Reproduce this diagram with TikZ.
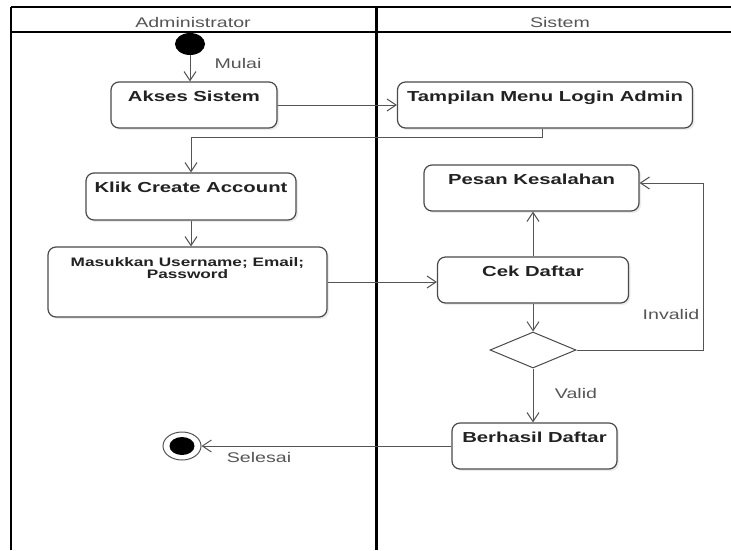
\documentclass[tikz,border=0pt]{standalone}
\usepackage{fontspec}
\setmainfont{Liberation Sans}
\newfontfamily\widesans[FakeStretch=1.4]{Liberation Sans}
\usetikzlibrary{arrows.meta,shapes.geometric,shadows}

\definecolor{boxgray}{HTML}{4A4A4A}
\definecolor{linegray}{HTML}{555555}
\definecolor{textdark}{HTML}{222222}
\definecolor{notegray}{HTML}{555555}

\begin{document}
\begin{tikzpicture}[
  x=1pt, y=-1pt,
  activity/.style={draw=boxgray, line width=1.2pt, rounded corners=8pt, fill=white,
    inner sep=0pt, drop shadow={opacity=0.15, shadow xshift=2pt, shadow yshift=-2pt}},
  boxtext/.style={font=\widesans\bfseries\fontsize{14.5}{17}\selectfont, text=textdark,
    anchor=north, inner sep=0pt, yshift=-9.5pt},
  boxsmall/.style={font=\widesans\bfseries\fontsize{12.3}{12}\selectfont, text=textdark,
    anchor=north, inner sep=0pt, yshift=-10.5pt, align=center},
  note/.style={font=\widesans\fontsize{14}{16}\selectfont, text=notegray, inner sep=0pt},
  flow/.style={draw=linegray, line width=1pt,
    -{Straight Barb[length=9pt,width=12pt,line width=1pt]}},
  lane/.style={line width=2.2pt, draw=black},
]
\useasboundingbox (0,0) rectangle (731,550);

% swimlane frame
\draw[lane] (11,7) -- (731,7);
\draw[lane] (11,7) -- (11,550);
\draw[line width=2pt] (11,32) -- (731,32);
\draw[line width=3pt] (376,7) -- (376,550);
\node[note] (laneA) at (193,22) {Administrator};
\node[note] (laneB) at (560,22) {Sistem};

% initial and final nodes
\node[ellipse, fill=black, minimum width=30, minimum height=22, inner sep=0pt] (start) at (190,44) {};
\node[ellipse, draw=linegray, line width=1pt, fill=white, minimum width=38, minimum height=28,
  inner sep=0pt, path picture={\fill[black] (path picture bounding box.center)
  ellipse [x radius=12.5pt, y radius=9pt];}] (finish) at (182,446) {};

% activities
\node[activity, minimum width=166, minimum height=46, label={[boxtext]north:Akses Sistem}] (akses) at (194,105) {};
\node[activity, minimum width=295, minimum height=46, label={[boxtext]north:Tampilan Menu Login Admin}] (tampilan) at (545,105) {};
\node[activity, minimum width=210, minimum height=47, label={[boxtext]north:Klik Create Account}] (klik) at (191,196.5) {};
\node[activity, minimum width=279, minimum height=70, label={[boxsmall]north:{Masukkan Username; Email;\\Password}}] (masukkan) at (187.5,282) {};
\node[activity, minimum width=215, minimum height=46, label={[boxtext]north:Pesan Kesalahan}] (pesan) at (531.5,188) {};
\node[activity, minimum width=191, minimum height=46, label={[boxtext]north:Cek Daftar}] (cek) at (533,280) {};
\node[diamond, draw=boxgray, line width=1pt, fill=white, aspect=2.4, minimum width=86, minimum height=36, inner sep=0pt] (keputusan) at (533,350) {};
\node[activity, minimum width=165, minimum height=46, label={[boxtext]north:Berhasil Daftar}] (berhasil) at (534.5,446) {};

% labels
\node[note] (mulai) at (238,63) {Mulai};
\node[note] (invalid) at (671,314) {Invalid};
\node[note] (valid) at (576,393) {Valid};
\node[note] (selesai) at (259,457) {Selesai};

% control flow
\draw[flow] (start.south) -- (start.south |- akses.north);
\draw[flow] (akses.east) -- (akses.east -| tampilan.west);
\draw[flow] ([xshift=-3pt]tampilan.south) -- ++(0,9) -| (klik.north);
\draw[flow] (klik.south) -- (klik.south |- masukkan.north);
\draw[flow] (masukkan.east) -- (masukkan.east -| cek.west);
\draw[flow] (cek.north) -- (cek.north |- pesan.south);
\draw[flow] (cek.south) -- (cek.south |- keputusan.north);
\draw[flow] (keputusan.east) -- ++(127,0) |- ([yshift=5pt]pesan.east);
\draw[flow] (keputusan.south) -- (keputusan.south |- berhasil.north);
\draw[flow] (berhasil.west) -- (finish.east);
\end{tikzpicture}
\end{document}
